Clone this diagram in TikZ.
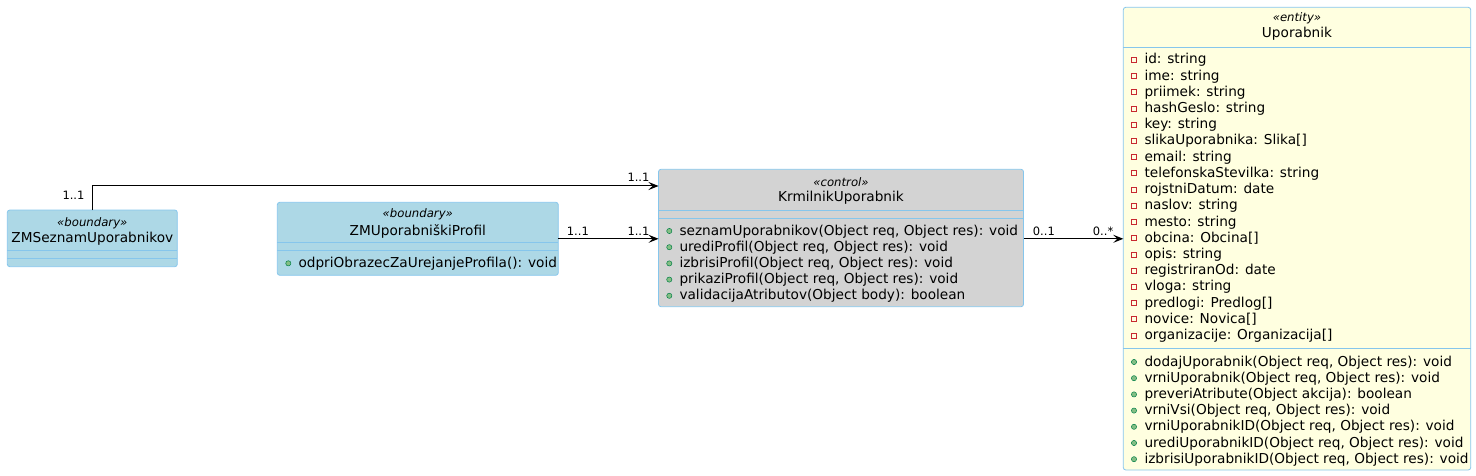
\documentclass[tikz,border=0pt]{standalone}
\usepackage{fontspec}
\setmainfont{DejaVu Sans}
\usetikzlibrary{arrows.meta}
\definecolor{bfill}{HTML}{ADD8E6}
\definecolor{bline}{HTML}{86C6EC}
\definecolor{cfill}{HTML}{D3D3D3}
\definecolor{efill}{HTML}{FFFFE0}
\definecolor{pubf}{HTML}{84BE84}
\definecolor{pubd}{HTML}{038048}
\definecolor{privd}{HTML}{C82930}
\newcommand\nmf{\fontsize{13.66}{16}\selectfont}
\newcommand\stf{\fontsize{11.7}{14}\selectfont\itshape}
\newcommand\lbf{\fontsize{11.5}{14}\selectfont}
\tikzset{
  classbox/.style={draw=bline, line width=0.8pt, rounded corners=2.5pt, inner sep=0pt, outer sep=0pt, anchor=north west},
  sepline/.style={draw=bline, line width=0.8pt},
  txt/.style={inner sep=0pt, anchor=base west, font=\nmf},
  ctxt/.style={inner sep=0pt, anchor=base, font=\nmf},
  stxt/.style={inner sep=0pt, anchor=base, font=\stf},
  lbl/.style={inner sep=0pt, anchor=base west, font=\lbf},
  pub/.style={fill=pubf, draw=pubd, line width=0.5pt},
  priv/.style={draw=privd, line width=0.8pt},
  arr/.style={line width=1pt, -{Stealth[length=10pt, width=8pt, inset=4pt]}}
}
\begin{document}
\begin{tikzpicture}[x=1pt,y=-1pt]
\useasboundingbox (0,0) rectangle (1476,476);
% ZMSeznamUporabnikov
\node[classbox, fill=bfill, minimum width=170pt, minimum height=56.7pt] (zs) at (7.3,210) {};
\node[stxt] (zsst) at (92.3,226) {«boundary»};
\node[ctxt] (zsnm) at (92.3,242.7) {ZMSeznamUporabnikov};
\draw[sepline] (7.3,250.3) -- (177.3,250.3);
\draw[sepline] (7.3,258.3) -- (177.3,258.3);
% ZMUporabniskiProfil
\node[classbox, fill=bfill, minimum width=281pt, minimum height=73pt] (zp) at (277.3,202.3) {};
\node[stxt] (zpst) at (417.8,217.3) {«boundary»};
\node[ctxt] (zpnm) at (417.8,235) {ZMUporabniškiProfil};
\draw[sepline] (277.3,242.3) -- (558.3,242.3);
\draw[sepline] (277.3,250.3) -- (558.3,250.3);
\filldraw[pub] (288.3,263.3) circle (2.6pt);
\node[txt] (zpm1) at (298.3,267.3) {odpriObrazecZaUrejanjeProfila(): void};
% KrmilnikUporabnik
\node[classbox, fill=cfill, minimum width=365pt, minimum height=137.4pt] (k) at (658.5,169.3) {};
\node[stxt] (kst) at (841,186) {«control»};
\node[ctxt] (knm) at (841,201.7) {KrmilnikUporabnik};
\draw[sepline] (658.5,210.7) -- (1023.5,210.7);
\draw[sepline] (658.5,218.3) -- (1023.5,218.3);
\foreach \t [count=\i from 0] in {{seznamUporabnikov(Object req, Object res): void},{urediProfil(Object req, Object res): void},{izbrisiProfil(Object req, Object res): void},{prikaziProfil(Object req, Object res): void},{validacijaAtributov(Object body): boolean}}{
  \filldraw[pub] (669.3,{231+16.2*\i}) circle (2.6pt);
  \node[txt] (km\i) at (679.3,{235+16.2*\i}) {\t};
}
% Uporabnik
\node[classbox, fill=efill, minimum width=347.4pt, minimum height=462.7pt] (u) at (1123.3,7.3) {};
\node[stxt] (ust) at (1297,22) {«entity»};
\node[ctxt] (unm) at (1297,37.5) {Uporabnik};
\draw[sepline] (1123.3,47.7) -- (1470.7,47.7);
\foreach \t [count=\i from 0] in {{id: string},{ime: string},{priimek: string},{hashGeslo: string},{key: string},{slikaUporabnika: Slika[]},{email: string},{telefonskaStevilka: string},{rojstniDatum: date},{naslov: string},{mesto: string},{obcina: Obcina[]},{opis: string},{registriranOd: date},{vloga: string},{predlogi: Predlog[]},{novice: Novica[]},{organizacije: Organizacija[]}}{
  \draw[priv] (1131.7,{57.5+16.2*\i}) rectangle +(5,5);
  \node[txt] (ua\i) at (1144.3,{64+16.2*\i}) {\t};
}
\draw[sepline] (1123.3,348.3) -- (1470.7,348.3);
\foreach \t [count=\i from 0] in {{dodajUporabnik(Object req, Object res): void},{vrniUporabnik(Object req, Object res): void},{preveriAtribute(Object akcija): boolean},{vrniVsi(Object req, Object res): void},{vrniUporabnikID(Object req, Object res): void},{urediUporabnikID(Object req, Object res): void},{izbrisiUporabnikID(Object req, Object res): void}}{
  \filldraw[pub] (1134,{362+16.2*\i}) circle (2.6pt);
  \node[txt] (um\i) at (1144.3,{366+16.2*\i}) {\t};
}
% connectors
\draw[arr] (zs.north) |- ([yshift=-16.7pt]k.north west);
\draw[arr] (zp.east) -- (zp.east -| k.west);
\draw[arr] (zp.east -| k.east) -- (zp.east -| u.west);
% labels
\node[lbl] (l1) at (62.3,199.3) {1..1};
\node[lbl] (l2) at (627.3,181.5) {1..1};
\node[lbl] (l3) at (566.7,235.7) {1..1};
\node[lbl] (l4) at (627.3,235.7) {1..1};
\node[lbl] (l5) at (1032.7,235.7) {0..1};
\node[lbl] (l6) at (1092.7,235.7) {0..*};
\end{tikzpicture}
\end{document}
